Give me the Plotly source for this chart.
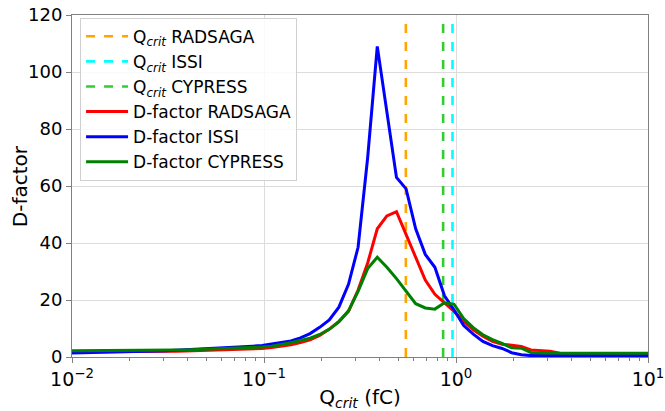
import numpy as np
import plotly.graph_objects as go

# Bin centres of Q_crit (fC): log-spaced, 20 bins per decade
q_crit = np.logspace(-2.01, 1.04, 62)

d_radsaga = [1.8, 1.8, 1.8, 1.85, 1.85, 1.9, 1.9, 1.95, 1.95, 2.0,
             2.0, 2.05, 2.1, 2.2, 2.3, 2.4, 2.5, 2.6, 2.7, 2.8,
             3.0, 3.3, 3.7, 4.3, 5.1, 6.0, 7.6, 9.8, 12.5, 16.0,
             23.5, 33, 45, 49.5, 51, 43, 34.5, 27, 22, 19,
             16, 12.5, 9.5, 7.3, 5.5, 4.5, 4.0, 3.7, 2.5, 2.2,
             2.0, 1.3, 1.0, 1.0, 1.0, 1.0, 1.0, 0.7, 0.7, 0.7,
             0.7, 0.7]
d_issi = [1.4, 1.45, 1.5, 1.55, 1.6, 1.7, 1.8, 1.9, 2.0, 2.1,
          2.2, 2.35, 2.5, 2.65, 2.8, 3.0, 3.2, 3.4, 3.6, 3.8,
          4.0, 4.5, 4.9, 5.6, 6.7, 8.2, 10.4, 13.0, 17.5, 25.5,
          38.5, 70, 109, 86, 63, 59, 45, 36, 31.5, 21.5,
          16.5, 11, 8, 5.5, 4.0, 3.0, 1.5, 0.8, 0.5, 0.5,
          0.5, 0.5, 0.5, 0.5, 0.5, 0.5, 0.5, 0.5, 0.5, 0.5,
          0.5, 0.5]
d_cypress = [2.2, 2.2, 2.2, 2.2, 2.25, 2.25, 2.3, 2.3, 2.35, 2.35,
             2.4, 2.45, 2.5, 2.6, 2.7, 2.8, 2.9, 3.0, 3.1, 3.3,
             3.5, 3.8, 4.3, 5.0, 5.8, 6.6, 7.9, 9.7, 12.3, 16.2,
             23, 31, 35, 31.5, 27.5, 23, 18.7, 17.2, 16.8, 19,
             18.5, 13.5, 10.3, 7.8, 6.1, 4.8, 3.2, 3.1, 1.6, 1.4,
             1.3, 1.3, 1.3, 1.3, 1.3, 1.3, 1.3, 1.3, 1.3, 1.3,
             1.3, 1.3]

qcrit_names = ["RADSAGA", "ISSI", "CYPRESS"]
qcrit_values = [0.548, 0.959, 0.857]
qcrit_colors = ["#FFA500", "#00FFFF", "#32CD32"]

d_names = ["RADSAGA", "ISSI", "CYPRESS"]
d_series = [d_radsaga, d_issi, d_cypress]
d_colors = ["#FF0000", "#0000FF", "#008000"]

x_tickvals = [0.01, 0.1, 1, 10]
x_ticktext = ["10<sup>\u22122</sup>", "10<sup>\u22121</sup>", "10<sup>0</sup>", "10<sup>1</sup>"]
y_range = [0, 120]

fig = go.Figure()
for name, val, col in zip(qcrit_names, qcrit_values, qcrit_colors):
    fig.add_trace(go.Scatter(x=[val, val], y=y_range, mode="lines",
                             line=dict(color=col, width=2.6, dash="dash"),
                             name="Q<sub><i>crit</i></sub> " + name))
for name, ys, col in zip(d_names, d_series, d_colors):
    fig.add_trace(go.Scatter(x=q_crit, y=ys, mode="lines",
                             line=dict(color=col, width=3),
                             name="D-factor " + name))

minor_vals = []
for dec in [0.01, 0.1, 1]:
    for m in range(2, 10):
        minor_vals.append(dec * m)

fig.update_layout(
    width=665, height=411,
    margin=dict(l=72, r=17, t=15, b=54),
    paper_bgcolor="white", plot_bgcolor="white",
    font=dict(family="DejaVu Sans", size=17, color="black"),
    showlegend=True,
    legend=dict(x=0.014, y=0.992, xanchor="left", yanchor="top",
                bgcolor="rgba(255,255,255,0.85)", bordercolor="#d0d0d0",
                borderwidth=1, font=dict(size=17), tracegroupgap=0,
                itemwidth=42),
    annotations=[dict(text="D-factor", textangle=-90, xref="paper", yref="paper",
                      x=-0.09, y=0.5, xanchor="center", yanchor="middle",
                      showarrow=False, font=dict(size=20))],
)
fig.update_xaxes(type="log", range=[-2, 1], tickvals=x_tickvals, ticktext=x_ticktext,
                 automargin=False,
                 showgrid=True, gridcolor="#dcdcdc", gridwidth=1,
                 showline=True, linecolor="#808080", linewidth=1, mirror=True,
                 ticks="outside", ticklen=5, tickcolor="#808080",
                 minor=dict(tickvals=minor_vals, ticks="outside", ticklen=3,
                            tickcolor="#808080", showgrid=False),
                 tickfont=dict(size=19),
                 title=dict(text="Q<sub><i>crit</i></sub> (fC)", font=dict(size=20)),
                 zeroline=False)
fig.update_yaxes(range=y_range, dtick=20, automargin=False,
                 showgrid=True, gridcolor="#dcdcdc", gridwidth=1,
                 showline=True, linecolor="#808080", linewidth=1, mirror=True,
                 ticks="outside", ticklen=5, tickcolor="#808080",
                 tickfont=dict(size=18),
                 zeroline=False)

fig.write_html("out.html")
